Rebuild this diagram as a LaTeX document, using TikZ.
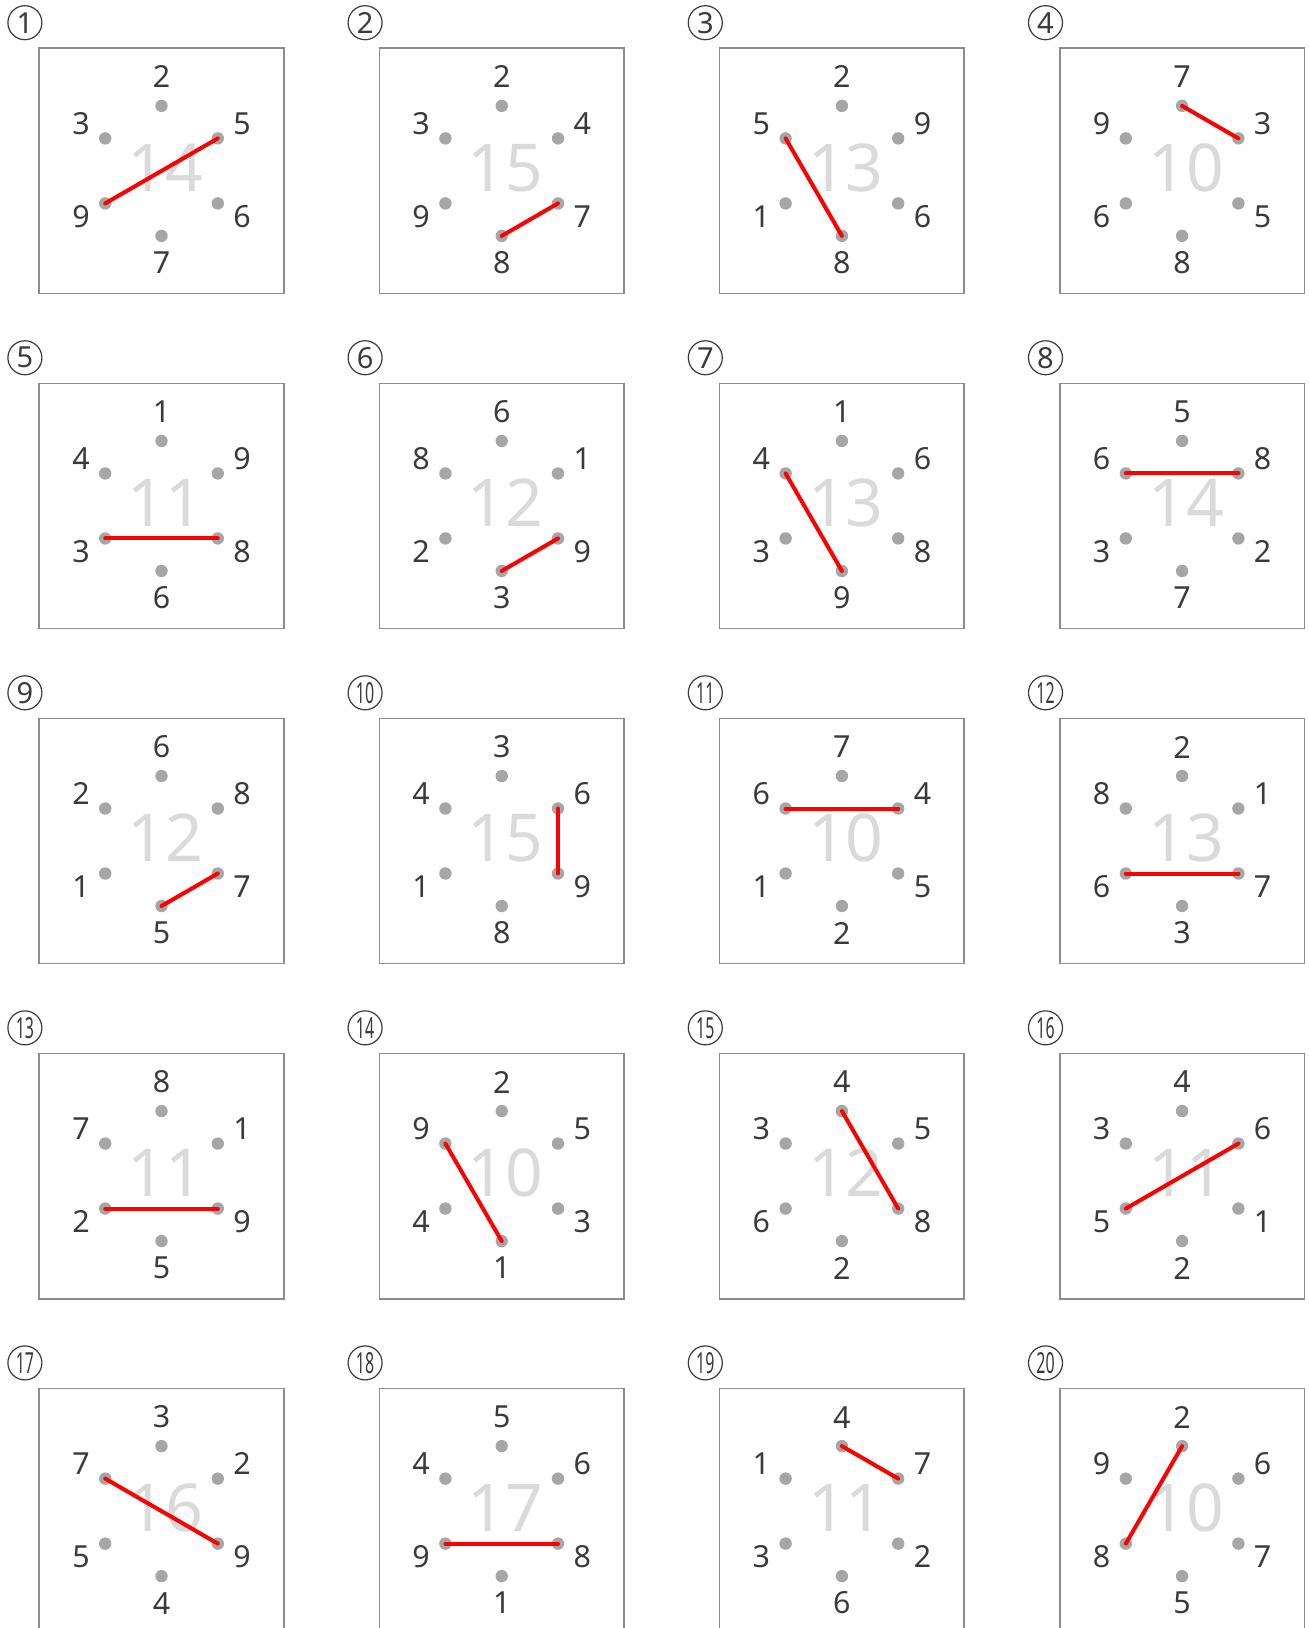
\documentclass[tikz,border=0pt]{standalone}
\usepackage{fontspec}
\setmainfont{Noto Sans}
\usepackage{graphicx}
\usetikzlibrary{positioning}
\definecolor{numgray}{HTML}{3A3A3A}
\definecolor{dotgray}{HTML}{A6A6A6}
\definecolor{sumgray}{HTML}{DADADA}
\definecolor{boxgray}{HTML}{8C8C8C}

\begin{document}
\begin{tikzpicture}[x=0.5pt, y=0.5pt,
    frame/.style={draw=boxgray, line width=0.75pt, minimum width=122.3pt, minimum height=122.7pt, inner sep=0pt},
    dot/.style={circle, fill=dotgray, inner sep=0pt, minimum size=6.2pt},
    lab/.style={text=numgray, font=\fontsize{15.2}{18}\selectfont, inner sep=0pt},
    sumnum/.style={text=sumgray, font=\fontsize{33}{36}\selectfont, inner sep=0pt},
    tag/.style={circle, draw=numgray, line width=0.6pt, minimum size=17pt, inner sep=0pt, text=numgray, font=\fontsize{14.5}{16}\selectfont},
    link/.style={red, line width=2pt, line cap=round}]

    \useasboundingbox (0,0) rectangle (1309,-1628);

    % number / sum / top, upper right, lower right, bottom, lower left, upper left / red pair
    \foreach \i/\s/\a/\b/\c/\d/\e/\f/\p/\q in {
        1/14/2/5/6/7/9/3/5/2,   2/15/2/4/7/8/9/3/4/3,   3/13/2/9/6/8/1/5/6/4,   4/10/7/3/5/8/6/9/1/2,
        5/11/1/9/8/6/3/4/5/3,   6/12/6/1/9/3/2/8/4/3,   7/13/1/6/8/9/3/4/6/4,   8/14/5/8/2/7/3/6/6/2,
        9/12/6/8/7/5/1/2/4/3,   10/15/3/6/9/8/1/4/2/3,  11/10/7/4/5/2/1/6/6/2,  12/13/2/1/7/3/6/8/5/3,
        13/11/8/1/9/5/2/7/5/3,  14/10/2/5/3/1/4/9/6/4,  15/12/4/5/8/2/6/3/1/3,  16/11/4/6/1/2/5/3/5/2,
        17/16/3/2/9/4/5/7/6/3,  18/17/5/6/8/1/9/4/5/3,  19/11/4/7/2/6/3/1/1/2,  20/10/2/6/7/5/8/9/1/5}{
        \pgfmathtruncatemacro\col{mod(\i-1,4)}
        \pgfmathtruncatemacro\row{(\i-1)/4}
        \pgfmathsetmacro\cx{161.5+340.2*\col}
        \pgfmathsetmacro\cy{-170.9-335.05*\row}

        \node[frame] (box\i) at (\cx,\cy) {};
        \node[tag] (tag\i) at (\cx-136.6,\cy+148.2) {\ifnum\i>9 \scalebox{0.55}[1]{\i}\else\i\fi};
        \node[sumnum] (sum\i) at (\cx+4,\cy+3) {\s};

        % six dots and their numbers
        \foreach \k/\ang/\v in {1/90/\a, 2/30/\b, 3/-30/\c, 4/-90/\d, 5/-150/\e, 6/150/\f}{
            \node[dot] (d\i-\k) at ([shift={(\ang:65)}] \cx,\cy) {};
            \node[lab] (l\i-\k) at ([shift={(\ang:93)}] \cx,\cy+1) {\v};
        }

        \draw[link] (d\i-\p.center) -- (d\i-\q.center);
    }
\end{tikzpicture}
\end{document}
